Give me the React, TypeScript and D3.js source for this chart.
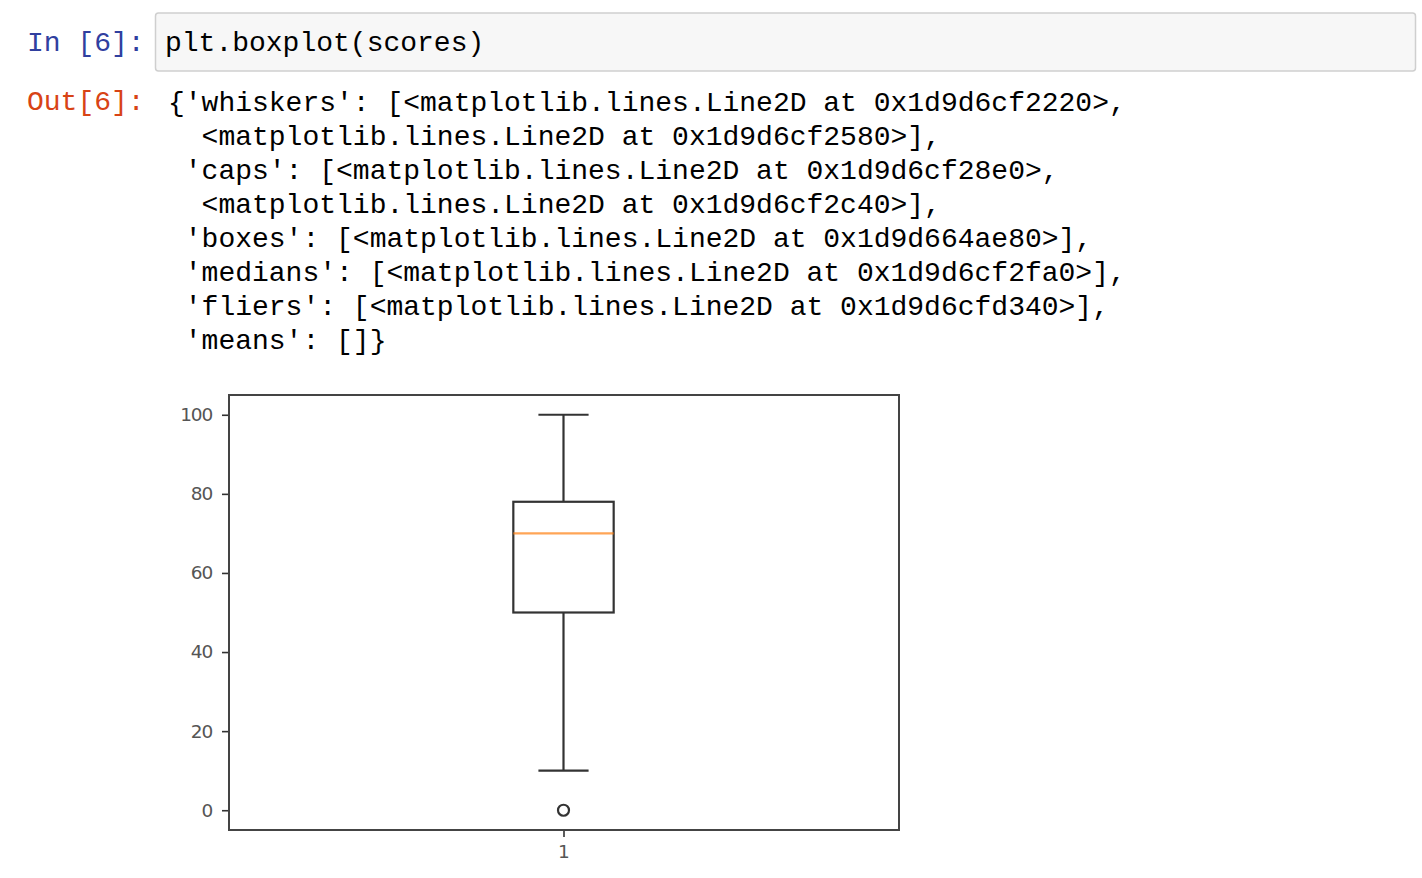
import * as d3 from 'd3'
import { useEffect, useRef } from 'react';

// box plot summary of "scores"
const categories = ['1'];
const whiskerLow = [10];
const q1 = [50];
const medians = [70];
const q3 = [78];
const whiskerHigh = [100];
const fliers = [[0]];
const yTicks = [0, 20, 40, 60, 80, 100];

const inputCode = 'plt.boxplot(scores)';
const outputLines = [
  "{'whiskers': [<matplotlib.lines.Line2D at 0x1d9d6cf2220>,",
  "  <matplotlib.lines.Line2D at 0x1d9d6cf2580>],",
  " 'caps': [<matplotlib.lines.Line2D at 0x1d9d6cf28e0>,",
  "  <matplotlib.lines.Line2D at 0x1d9d6cf2c40>],",
  " 'boxes': [<matplotlib.lines.Line2D at 0x1d9d664ae80>],",
  " 'medians': [<matplotlib.lines.Line2D at 0x1d9d6cf2fa0>],",
  " 'fliers': [<matplotlib.lines.Line2D at 0x1d9d6cfd340>],",
  " 'means': []}",
];

const mono = '"Liberation Mono", "DejaVu Sans Mono", monospace';
const sans = '"DejaVu Sans", sans-serif';
const fs = 28;

const App = () => {
  const svgRef = useRef<SVGSVGElement>(null);

  useEffect(() => {
    const svg = d3.select(svgRef.current);
    svg.selectAll('*').remove();

    // notebook cell
    svg.append('rect')
      .attr('x', 155.5).attr('y', 13).attr('width', 1260).attr('height', 58)
      .attr('rx', 3).attr('fill', '#f7f7f7').attr('stroke', '#cfcfcf').attr('stroke-width', 1.5);

    svg.append('text')
      .attr('x', 27).attr('y', 51)
      .attr('font-family', mono).attr('font-size', fs).attr('fill', '#303F9F')
      .text('In [6]:');

    svg.append('text')
      .attr('x', 165).attr('y', 51)
      .attr('font-family', mono).attr('font-size', fs).attr('fill', '#000')
      .text(inputCode);

    svg.append('text')
      .attr('x', 27).attr('y', 110)
      .attr('font-family', mono).attr('font-size', fs).attr('fill', '#D84315')
      .text('Out[6]:');

    svg.append('g')
      .selectAll('text')
      .data(outputLines)
      .join('text')
      .attr('x', 168)
      .attr('y', (d, i) => 111 + i * 34)
      .attr('font-family', mono).attr('font-size', fs).attr('fill', '#000')
      .style('white-space', 'pre')
      .attr('xml:space', 'preserve')
      .text(d => d);

    // chart
    const left = 229, right = 899, top = 395, bottom = 830;

    const x = d3.scaleLinear().domain([0.5, categories.length + 0.5]).range([left, right - 1]);
    const y = d3.scaleLinear().domain([-5, 105]).range([bottom, top]);

    const boxW = 0.15;

    const yAxis = svg.append('g')
      .attr('transform', `translate(${left},0)`)
      .call(d3.axisLeft(y).tickValues(yTicks).tickSize(7).tickPadding(10).tickSizeOuter(0));
    yAxis.select('.domain').remove();
    yAxis.selectAll('line').attr('stroke', '#333').attr('stroke-width', 1.6);
    yAxis.selectAll('text')
      .attr('font-family', sans).attr('font-size', 18.5).attr('fill', '#555')
      .attr('letter-spacing', -1.2);

    const xAxis = svg.append('g')
      .attr('transform', `translate(0,${bottom})`)
      .call(d3.axisBottom(x).tickValues(categories.map((c, i) => i + 1)).tickFormat((d, i) => categories[i]).tickSize(7).tickPadding(8).tickSizeOuter(0));
    xAxis.select('.domain').remove();
    xAxis.selectAll('line').attr('stroke', '#333').attr('stroke-width', 1.6);
    xAxis.selectAll('text')
      .attr('font-family', sans).attr('font-size', 18.5).attr('fill', '#555');

    const data = categories.map((c, i) => ({
      pos: i + 1, lo: whiskerLow[i], q1: q1[i], med: medians[i], q3: q3[i], hi: whiskerHigh[i], fliers: fliers[i],
    }));

    const g = svg.append('g').attr('stroke', '#333').attr('stroke-width', 2.2).attr('fill', 'none');

    data.forEach(d => {
      // whiskers
      g.append('line').attr('x1', x(d.pos)).attr('x2', x(d.pos)).attr('y1', y(d.q1)).attr('y2', y(d.lo));
      g.append('line').attr('x1', x(d.pos)).attr('x2', x(d.pos)).attr('y1', y(d.q3)).attr('y2', y(d.hi));
      // caps
      g.append('line').attr('x1', x(d.pos - boxW / 4)).attr('x2', x(d.pos + boxW / 4)).attr('y1', y(d.lo)).attr('y2', y(d.lo));
      g.append('line').attr('x1', x(d.pos - boxW / 4)).attr('x2', x(d.pos + boxW / 4)).attr('y1', y(d.hi)).attr('y2', y(d.hi));
      // box
      g.append('rect')
        .attr('x', x(d.pos - boxW / 2)).attr('y', y(d.q3))
        .attr('width', x(d.pos + boxW / 2) - x(d.pos - boxW / 2))
        .attr('height', y(d.q1) - y(d.q3));
      // median
      g.append('line')
        .attr('x1', x(d.pos - boxW / 2)).attr('x2', x(d.pos + boxW / 2))
        .attr('y1', y(d.med)).attr('y2', y(d.med))
        .attr('stroke', '#ff7f0e').attr('stroke-opacity', 0.7);
      // fliers
      g.selectAll(null)
        .data(d.fliers)
        .join('circle')
        .attr('cx', x(d.pos)).attr('cy', v => y(v)).attr('r', 5.5);
    });

    // frame
    svg.append('rect')
      .attr('x', left).attr('y', top).attr('width', right - left).attr('height', bottom - top)
      .attr('fill', 'none').attr('stroke', '#444').attr('stroke-width', 2);
  }, []);

  return (
    <div style={{ position: 'absolute', left: 0, top: 0 }}>
      <svg ref={svgRef} width={1422} height={878} style={{ display: 'block', background: '#fff' }} />
    </div>
  );
};

export default App;
